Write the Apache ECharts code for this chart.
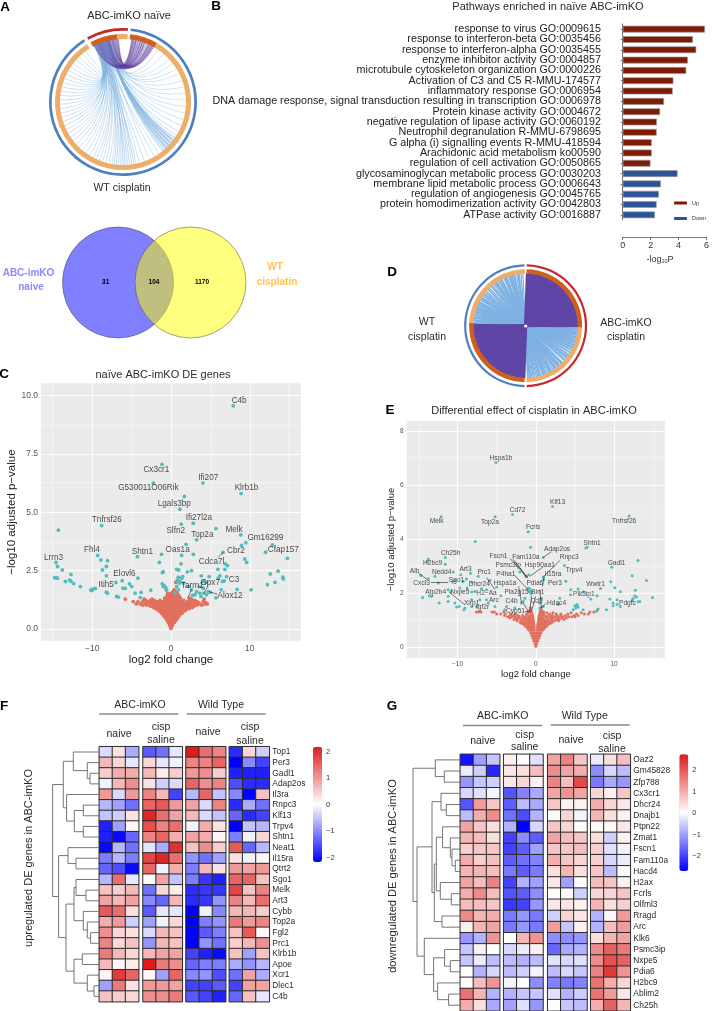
<!DOCTYPE html>
<html><head><meta charset="utf-8">
<style>html,body{margin:0;padding:0;background:#fff}#c{width:712px;height:1011px}</style>
<script src="https://cdn.jsdelivr.net/npm/echarts@6/dist/echarts.min.js"></script>
</head><body><div id="c"></div>
<script>
const FONT='Liberation Sans';
// ---------- Panel B
const pathwayLabels=['response to virus GO:0009615','response to interferon-beta GO:0035456','response to interferon-alpha GO:0035455','enzyme inhibitor activity GO:0004857','microtubule cytoskeleton organization GO:0000226','Activation of C3 and C5 R-MMU-174577','inflammatory response GO:0006954','DNA damage response, signal transduction resulting in transcription GO:0006978','Protein kinase activity GO:0004672','negative regulation of lipase activity GO:0060192','Neutrophil degranulation R-MMU-6798695','G alpha (i) signalling events R-MMU-418594','Arachidonic acid metabolism ko00590','regulation of cell activation GO:0050865','glycosaminoglycan metabolic process GO:0030203','membrane lipid metabolic process GO:0006643','regulation of angiogenesis GO:0045765','protein homodimerization activity GO:0042803','ATPase activity GO:0016887'];
const upValues=[5.89,5.03,5.27,4.67,4.55,3.63,3.58,2.96,2.68,2.45,2.43,2.08,2.08,1.99];
const downValues=[3.93,2.73,2.59,2.43,2.31];
// ---------- Panel A/D rings (degree spans, clockwise) and links
const ringA_outer=[33,2,322,3];
const ringA_inner=[23.5,9,2,24,298,3.5];
const linksA_blue=[[341,34,.7],[347,40,.6],[344,47,.6],[350,52,.6],[342,58,.7],[346,63,.6],[349,70,.6],[343,76,.7],[345,82,.6],[351,88,.6],[340,94,.7],[348,100,.6],[344,106,.7],[346,112,.7],[342,118,.8],[350,122,.8],
[345,125,1.2],[345.5,127,1.4],[346,128,1.4],[346.5,130,1.5],[347,131,1.5],[347.5,133,1.5],[346,134,1.5],[345,136,1.4],[346.5,137,1.4],[347,139,1.2],[346,141,1],
[338,145,.6],[342,150,.7],[345,155,.6],[339,160,.7],[343,165,.7],[337,168,.8],[341,170,.8],[345,172,.8],[339,174,.9],[342,176,.9],[336,178,1],[340,180,1],[344,182,.9],[338,184,.8],[341,186,.8],[335,188,.8],[339,190,.7],[343,193,.7],[337,196,.7],[340,199,.7],[336,202,.7],[342,205,.7],[338,208,.7],[334,212,.7],[340,216,.7],[336,220,.7],[338,224,.7],[334,228,.8],
[337,232,.8],[340,236,.7],[335,240,.8],[338,244,.7],[333,248,.8],[336,252,.8],[339,256,.7],[334,260,.7],[337,264,.7],[341,268,.7],[335,272,.8],[338,276,.7],[333,280,.7],[336,284,.7],[340,288,.7],[334,292,.7],[337,296,.7],[335,300,.7],[339,304,.7],[333,308,.6],[336,312,.7],[338,316,.6],[334,320,.6],[336,324,.6]];
const linksA_purple=[[333,29,.9],[334.5,28,.9],[336,27,.9],[337,26,.9],[338.5,25,.9],[339.5,24,.9],[341,23,.9],[342,22,.9],[343.5,21,.9],[344.5,20,.9],[346,19,.9],[347,18,.9],[348,17,.9],[349.5,16,.9],[350.5,15,.9],[351.5,14,.9],[352.5,13,.9],[353.5,12,.9],[354.5,11,.9],[355,10,.9],[355.5,9,.9],[356,8,.9],[336.5,16,.7],[341,11,.7],[345,26,.7],[349,9,.7],[333,20,.9],[335,14,.9],[337,9,.9],[339,28,.9],[342,12,.9],[344,27,.9],[347,24,.9],[350,29,.9],[352,20,.9],[354,27,.9],[334,24,.9],[338,10,.9],[340,18,.9],[343,16,.9],[346,8,.9],[348,12,.9],[351,25,.9],[353,18,.9]];
const ringD_outer=[178,2,178,2];
const ringD_inner=[91,87,2,92,86.5,1.5];
const linksD_purple=[[2,182,3.2],[5,185,3.2],[8,188,3.2],[11,191,3.2],[14,194,3.2],[17,197,3.2],[20,200,3.2],[23,203,3.2],[26,206,3.2],[29,209,3.2],[32,212,3.2],[35,215,3.2],[38,218,3.2],[41,221,3.2],[44,224,3.2],[47,227,3.2],[50,230,3.2],[53,233,3.2],[56,236,3.2],[59,239,3.2],[62,242,3.2],[65,245,3.2],[68,248,3.2],[71,251,3.2],[74,254,3.2],[77,257,3.2],[80,260,3.2],[83,263,3.2],[86,266,3.2],[89,269,3.2],[91,271,2]];
const linksD_blue=[[273,94,2.6],[276,97,2.6],[279,100,2.6],[282,103,2.6],[285,106,2.6],[288,109,2.6],[291,112,2.4],[294,115,2.4],[297,118,2.2],[300,121,2],[302.5,124,1.7],[305,127,1.5],[307,129,1.4],[309.5,132,1.3],[311.5,135,1.3],[314,137,1.3],[316,139,1.3],[318.5,142,1.3],[320,144,1.3],[322.5,146,1.3],[325,148,1.3],[327,151,1.3],[329,153,1.3],[331.5,155,1.3],[333,157,1.3],[335.5,159,1.2],[337.5,161,1.2],[339,163,1.2],[341,165,1.2],[343,166.5,1.2],[345,168,1.2],[346.5,170,1.2],[348,171.5,1.2],[350,173,1.2],[351.5,174.5,1.2],[353,176,1.2],[355,177,1.2],[357,178,1.2],
[290,126,1.2],[296,131,1.2],[302,136,1.2],[308,141,1.2],[314,146,1.2],[320,152,1.2],[326,158,1.2],[332,164,1.2],[338,170,1.2],[344,175,1.2],[352,165,1.2],[347,160,1.2],[342,155,1.2],[336,150,1.2],[330,145,1.2],[324,140,1.2]];
// ---------- Panel A Venn
const vennCounts=['31','104','1170'];
// ---------- Panel C volcano
const tealC=[[7.9,9.56],[-1.14,7.05],[-2.24,6.25],[4.05,6.25],[8.9,5.8],[1.7,5.68],[1.14,5.13],[2.83,4.53],[1.3,4.49],[-8.8,4.43],[5.7,4.3],[-14.3,4.24],[8.86,4.03],[3.25,3.82],[9.5,3.7],[8.95,3.58],[1.9,3.63],[12.87,3.6],[12,3.29],[6.6,3.28],[-1.2,3.2],[1.35,3.16],[2.83,3.2],[-4.26,3.1],[-9.3,3.15],[-8.9,2.96],[-8.06,2.93],[14.77,3.03],[9.37,3],[9.6,2.86],[-14.6,2.85],[-14.4,2.68],[-13.8,2.53],[-8.2,2.68],[-8.7,2.53],[-1.48,2.85],[1.27,2.79],[6.9,2.79],[7.17,2.72],[5.95,2.56],[6.84,2.56],[.72,2.56],[.97,2.53],[2.6,2.5],[2.07,2.45],[-.97,2.46],[-1.1,2.42],[13.6,2.48],[12.6,2.36],[-12.7,2.34],[-8.2,2.28],[-14.77,2.2],[-14.56,2.19],[-14.4,2.18],[14.2,2.22],[14.26,2.15],[3.84,2.28],[4.85,2.25],[6.2,2.28],[6,2.18],[7.05,2.25],[6.54,2.04],[6.75,2.06],[13.2,2],[-4.2,2.18],[-12.87,2.1],[-13.4,2.04],[-12.7,2.05],[-12.36,1.95],[-11.5,1.82],[-7,2],[-6.2,2.07],[-5.27,1.94],[-4.98,1.82],[-6.1,1.75],[-5.8,1.74],[-10.2,1.67],[-9.9,1.72],[-9.6,1.74],[-10.04,1.65],[-8.2,1.58],[-8.06,1.54],[-6.9,1.4],[-6.67,1.37],[-4.56,1.54],[-3.8,1.57],[-3.9,1.35],[-2.57,1.67],[-1.1,1.94],[-.97,1.82],[-.68,1.77],[-.55,1.68],[-.84,1.85],[.93,2.22],[1.35,2.18],[.8,2.1],[1.14,2.04],[1.48,2.25],[1.05,1.97],[1.56,1.97],[.72,1.82],[.93,1.68],[.5,1.54],[4.1,2.04],[4.5,2],[3.6,1.82],[4.1,1.75],[3.25,1.6],[3.67,1.54],[4.18,1.54],[3.04,1.47],[2.74,1.44],[4.73,1.6],[5,1.57],[4.5,1.47],[3.8,1.4],[5.7,1.34],[6.37,1.68],[8.4,1.7],[10.17,1.68],[12.24,1.9],[2.2,1.82],[2.6,1.68]];
const redRowsC=[[.03,[0]],[.1,[-.08,.07]],[.18,[-.18,-.05,.08,.2]],[.28,[-.33,-.18,-.03,.12,.27,.4]],[.38,[-.5,-.33,-.16,0,.16,.32,.5,.62]],[.48,[-.72,-.55,-.36,-.18,0,.18,.36,.55,.72,.85]],[.58,[-.95,-.75,-.55,-.35,-.15,.05,.25,.45,.65,.85,1.05]],[.68,[-1.2,-1,-.78,-.55,-.33,-.11,.11,.33,.55,.78,1,1.2,1.38]],[.78,[-1.5,-1.25,-1,-.75,-.5,-.25,0,.25,.5,.75,1,1.25,1.5,1.72]],[.83,[-1.7,-1.2,-.7,-.2,.3,.8,1.3,1.9]],[.88,[-1.95,-1.6,-1.3,-1,-.7,-.4,-.1,.2,.5,.8,1.1,1.4,1.7,2,2.3]],[.93,[-2.2,-1.7,-1.2,-.7,-.2,.3,.8,1.3,1.8,2.4,2.7]],[.98,[-2.6,-2.2,-1.8,-1.45,-1.1,-.75,-.4,-.05,.3,.65,1,1.35,1.7,2.1,2.5,2.9]],[1.03,[-3.6,-3.1,-2.6,-2.1,-1.7,-1.2,-.7,-.2,.3,.8,1.3,1.8,2.3,2.8,3.3,3.9]],[1.08,[-4.4,-3.9,-3.3,-2.9,-2.4,-1.9,-1.4,-.9,-.5,0,.5,.9,1.4,1.9,2.4,3.1,3.6,4.3,4.6]],[1.13,[-3,-2.5,-2,-1.5,-1.1,-.7,-.3,.2,.6,1,1.5,2,2.5,3,3.5,4.4]],[1.18,[-4.8,-4.2,-3.6,-2.9,-2.3,-1.8,-1,-.5,0,.4,.8,1.3,2.1,2.7,3.3,4.1]],[1.23,[-3.2,-2.6,-2.1,-1.4,-.8,-.3,.2,.7,1.1,1.6,2.3,3]],[1.28,[-5.8,-3.4,-2.4,-.6,-.2,.2,.6,1,2.6,4.2]],[1.33,[-.8,-.4,0,.4,.8,1.2,2.3]],[1.38,[-.3,.1,.5,.8]],[1.43,[-.5,-.1,.3,.7,1]],[1.48,[-.1,.3,.6]],[1.53,[-.4,0,.4,.8]],[1.58,[.2,.45,.65]],[1.68,[.4,-.6]],[2,[.6]]];
const labelsC=[[8.65,9.77,'C4b'],[-1.86,6.8,'Cx3cr1'],[4.73,6.48,'Ifi207'],[-2.87,6.03,'G530011O06Rik'],[9.58,6.03,'Klrb1b'],[.42,5.36,'Lgals3bp'],[3.54,4.77,'Ifi27l2a'],[-8.14,4.66,'Tnfrsf26'],[.6,4.23,'Slfn2'],[8,4.26,'Melk'],[3.97,4.03,'Top2a'],[11.98,3.92,'Gm16299'],[.84,3.39,'Oas1a'],[-3.63,3.33,'Shtn1'],[-10.04,3.39,'Fhl4'],[8.23,3.35,'Cbr2'],[14.26,3.38,'Cfap157'],[-14.9,3.06,'Lrrn3'],[5.15,2.9,'Cdca7l'],[-5.9,2.35,'Elovl6'],[-8.23,1.91,'Itih5'],[8,2.12,'C3'],[4.98,1.99,'Gpx7'],[2.7,1.85,'Tarm1'],[7.5,1.44,'Alox12']];
const connC=[[6,3.07,6.6,3.28],[2.6,1.71,2.2,1.37],[4.73,1.85,4.18,1.54],[5.9,1.49,4.85,1.6]];
// ---------- Panel E volcano
const tealE=[[-5.1,6.84],[2.13,5.21],[-2.98,4.91],[-12.1,4.83],[-5.2,4.83],[11.9,4.86],[-.98,4.27],[-7.74,3.91],[-.68,3.7],[6.38,3.67],[6.55,3.7],[.94,3.32],[-13.74,3.26],[-13.87,3.17],[-11.57,3.32],[-11.57,3.07],[13.06,3.21],[3.66,3.02],[9.7,2.96],[-10.55,2.78],[-9.6,2.68],[-8.34,2.73],[-14.7,2.65],[-12.9,2.62],[-13.74,2.53],[12.3,2.64],[-2.04,2.78],[-1.2,2.62],[-.9,2.68],[.94,2.59],[1.02,2.5],[-12.47,2.37],[-10.64,2.41],[-10.34,2.46],[-9.28,2.43],[-8.85,2.52],[-8.2,2.4],[-5.87,2.47],[-7.36,2.62],[3.83,2.44],[9.57,2.42],[14.13,2.46],[-9.7,2.19],[-8.77,2.19],[-6.94,2.16],[-8.2,2.04],[-7.79,2.06],[-6.3,2.12],[-5.02,2.22],[10.09,2.2],[8.26,2.17],[5.4,2.15],[4.47,2.12],[-11.2,2.12],[-10.9,2.04],[12.72,2.1],[10.8,2.05],[-.98,2.19],[-.77,2.15],[-.55,2.06],[-.85,2.06],[-.64,1.98],[-4.47,1.9],[4.43,1.94],[6.04,2.04],[-14.47,1.83],[-13.6,1.9],[-13.3,1.88],[-11.2,1.88],[12.64,1.9],[12.85,1.85],[12.43,1.8],[12.3,1.73],[14.9,1.83],[13.28,1.69],[13.06,1.68],[7.83,1.9],[7.02,1.78],[9.45,1.78],[10.38,1.75],[9.87,1.63],[10.38,1.57],[10.8,1.5],[9.87,1.53],[-12.34,1.63],[-11.2,1.69],[-10.34,1.63],[-10.13,1.48],[-9.79,1.5],[-9.06,1.44],[-9.2,1.38],[-8.2,1.75],[-7.15,1.75],[-8.2,1.5],[-7.57,1.5],[-6.09,1.63],[-5.23,1.5],[-6.3,1.75],[-3.74,1.5],[-3.96,1.38],[-2.68,1.44],[-1.83,1.63],[-1.62,1.69],[-1.4,1.81],[3.06,1.81],[.72,1.81],[.51,1.63],[.94,1.5],[2.85,1.57],[.51,1.44],[4.98,1.53],[5.19,1.53],[5.4,1.48],[5.1,1.44],[5.28,1.57],[4.77,1.38],[6.04,1.38],[7.74,1.32],[7.96,1.41],[9.02,1.38]];
const redRowsE=[[.03,[0]],[.12,[-.12,.1]],[.22,[-.25,-.1,.1,.25]],[.32,[-.38,-.2,-.08,.08,.2,.38]],[.42,[-.5,-.3,-.12,.12,.3,.5]],[.52,[-.65,-.45,-.25,-.12,.14,.3,.48,.66]],[.62,[-.85,-.6,-.4,-.18,.18,.4,.6,.85]],[.67,[-1,-.7,-.5,-.3,.3,.5,.75,1]],[.72,[-1.1,-.85,-.6,-.4,-.2,.2,.4,.65,.9,1.15]],[.77,[-1.3,-1,-.75,-.5,-.3,.3,.5,.8,1.05,1.35]],[.82,[-1.5,-1.2,-.9,-.65,-.4,-.22,.22,.42,.7,.95,1.25,1.55]],[.87,[-1.8,-1.4,-1,-.75,-.5,-.3,.3,.55,.8,1.1,1.45,1.85]],[.92,[-2,-1.6,-1.2,-.9,-.6,-.3,.3,.6,.9,1.25,1.7,2.1]],[.97,[-2.4,-1.9,-1.5,-1.1,-.8,-.5,-.35,.4,.6,.85,1.2,1.6,2,2.4,2.9]],[1.02,[-2.8,-2.4,-1.9,-1.4,-1,-.7,-.35,.35,.7,1,1.5,2,2.6,3,3.6]],[1.07,[-3.3,-2.6,-2.2,-1.7,-1.2,-.9,-.55,-.38,.42,.6,.95,1.4,1.8,2.2,2.8,3.3,3.9]],[1.12,[-3.6,-3,-2.5,-2.1,-1.4,-.8,-.4,.4,.8,1.3,1.9,2.4,2.9,3.5,4.2,4.6,5]],[1.17,[-4,-3.3,-2.8,-2.3,-1.7,-1,-.6,-.45,.48,.7,1.1,1.6,2.1,2.7,3.2,3.8,4.9,5.4]],[1.22,[-5,-4.5,-3.9,-3.2,-2.6,-1.2,-.5,.5,1,1.8,2.6,3.2,4.1,5.2,6.2,6.7]],[1.27,[-.8,-.55,.55,.8,1.4,2.2,4.5,5.8]],[1.3,[-7.6,-7.3,-7,-5.6,-5.3,-4.1,-1,-.6,.6,1,6.9,7.4]],[1.34,[-.8,-.65,.6,.75]],[1.38,[-.7,.65,7.9]],[1.45,[-.7,.68]]];
const labelsE=[[-4.47,6.99,'Hspa1b'],[2.77,5.38,'Klf13'],[-2.34,5.07,'Cd72'],[-12.68,4.65,'Melk'],[-5.87,4.64,'Top2a'],[11.28,4.68,'Tnfrsf26'],[-.34,4.46,'Fcrls'],[7.19,3.84,'Shtn1'],[2.72,3.63,'Adap2os'],[-10.89,3.47,'Ch25h'],[-4.77,3.36,'Fscn1'],[-1.28,3.33,'Fam110a'],[4.26,3.32,'Rnpc3'],[10.3,3.12,'Gadl1'],[-13.19,3.1,'H2bc9'],[-3.53,3.02,'Psmc3ip'],[.51,3.02,'Hsp90aa1'],[-8.98,2.9,'Art3'],[4.89,2.86,'Trpv4'],[-12.04,2.78,'Nedd4'],[-15.5,2.8,'Alb'],[-6.6,2.77,'Prc1'],[-3.83,2.69,'P4ha1'],[2.2,2.69,'Il15ra'],[-14.6,2.37,'Cxcl3'],[-10.13,2.49,'Sgo1'],[-7.23,2.32,'Dhcr24'],[-3.96,2.37,'Hspa1a'],[-.13,2.37,'Pdia6'],[2.43,2.36,'Per3'],[7.62,2.33,'Wwtr1'],[-12.8,2.05,'Atp2b4'],[-9.7,2.02,'Nxpe5'],[-6.3,2,'H2\u2212Aa'],[-2.47,2.04,'Pla2g15'],[.26,2.02,'Bin1'],[6.13,1.96,'Pik3ip1'],[-8.2,1.63,'Xirp1'],[-5.36,1.74,'Arc'],[-3.1,1.68,'C4b'],[.09,1.7,'Cd9'],[2.64,1.63,'Hdac4'],[11.7,1.62,'Pdgfc'],[-6.8,1.46,'Igf2r'],[-2.6,1.32,'Cyp51']];
const connE=[[-15,2.75,-13.9,2.5],[-13.4,2.4,-11.2,2.41],[-11,2.02,-9.1,1.57],[-3.3,3.28,-1.2,2.62],[-2.9,3.25,-1,2.55],[-2.04,2.93,-1.2,2.55],[-2.68,2.65,-1,2.12],[.94,3.32,1.98,3.53],[3.06,3.2,1.02,2.62],[.94,2.97,-.77,2.62],[1.06,2.62,.85,2.24],[-6.3,2.57,-5.23,2.13],[-2.2,2.25,-1.83,1.63],[-.55,1.9,-.77,1.33],[-1.62,1.63,-.98,1.33],[-1.4,1.33,-.68,1.33],[0,1.88,-.55,1.33],[1.36,1.63,.64,1.44],[.5,2.12,.72,1.44]];
// ---------- Panels F / G heatmaps
const groupCols=['1','2','3'];
const geneF=['Top1','Per3','Gadl1','Adap2os','Il3ra','Rnpc3','Klf13','Trpv4','Shtn1','Neat1','Il15ra','Qtrt2','Sgo1','Melk','Art3','Cybb','Top2a','Fgl2','Prc1','Klrb1b','Apoe','Xcr1','Dlec1','C4b'];
const valuesF=[[-.3,.3,-.7,-1.4,-1.2,-.2,2.2,1.4,1.2,-1.8,.4,-.4],[.7,.4,-.2,.4,-.2,-.1,1.2,1.2,1.5,-2.3,-1,-1.6],[.5,.8,.8,.7,.2,.5,1,1.1,.5,-1.9,-1.9,-1.9],[-.1,.7,1.1,.3,-.4,-.3,1.5,1.1,1.2,-1.5,-1.8,-1.8],[1,-.3,1,1.2,.7,-1.6,-.6,1.5,-.5,-1,-2.2,.6],[-.6,-.8,-1.2,1.5,1.6,1,.9,-.3,1.2,-1.8,-.7,-1.2],[-.5,-.4,.3,2.1,1.4,.9,.7,-.3,-.5,-1.3,-1.8,-1.6],[-1.9,-.8,.1,1.7,1.2,1.4,-.1,.8,.3,-2.2,-.5,-.6],[-1.9,-2.1,-1.3,1.2,1.5,.8,.9,.8,.1,-1.1,-.1,.4],[-2.1,-.6,-1.2,-.2,-.7,2,.6,1.1,.5,1.6,-1.3,-.6],[-1.1,-.6,-1.1,1.8,2.1,1.4,-.9,-1.2,-.8,.3,-.1,.1],[-1.3,-1.5,-2.1,1.5,-.1,.8,-1.1,.7,.3,1,.9,1],[-.6,1.4,-.2,0,.9,-.5,-1.1,-1.7,-1.9,1.5,1.5,.6],[.6,.5,.7,-1.2,.4,.2,-1.8,-1.7,-1.7,1.8,.6,1.2],[.9,.7,.9,-1,-1.3,.7,-1.8,-1.7,-.9,1.2,.7,1.4],[1.6,1.4,.3,-1.4,-.2,-.2,-2.3,-.1,-1,.7,.7,.5],[.8,1,-.4,-.8,-.1,.4,-2.3,-1.1,-.9,1.3,1,1.2],[1.1,.4,.3,-.3,.7,.6,-2.3,-1.4,-1.1,.6,1.6,.1],[1.2,.4,.6,-.9,.7,.6,-2.3,-.9,-1.2,.5,.7,1.1],[1.3,.7,.4,.7,.9,.9,-1.6,-1.9,-2.1,.6,-.8,.6],[.7,.1,.2,2.3,1.3,1.1,-1.3,-1.1,-1.1,-.7,-.9,-.6],[.1,1.9,1.5,.1,-.8,1.5,-1,-.9,-1.5,-1.2,.9,-.7],[-.8,1.3,.3,1,1,.9,-1.6,-1.6,-1.4,-1.6,.9,.9],[.6,.5,.4,1.1,1.1,1.3,-1.4,-1.6,-1.9,-1.3,.6,-.2]];
const geneG=['Oaz2','Gm45828','Zfp788','Cx3cr1','Dhcr24','Dnajb1','Ptpn22','Zmat1','Fscn1','Fam110a','Hacd4','H2ax','Fcrls','Olfml3','Rragd','Arc','Klk6','Psmc3ip','Nxpe5','Pdia6','H2bc9','Ablim2','Ch25h'];
const valuesG=[[-2.5,-1,-.6,.2,0,-.3,1.1,1.5,.7,-.2,.4,.8],[-.2,-.5,-2.3,.3,.4,.8,1.4,1.1,1,-1.2,-.4,-.7],[-1.1,-.6,-.5,.3,.5,.2,1.5,.8,2.2,-1.4,-.9,-1.1],[-.4,-.3,-.1,-1.8,-1.3,-.9,1.1,1.3,1.1,.5,.2,.7],[-1.8,1.2,.7,-1.7,-.7,-.9,.7,.2,.2,1,.5,.3],[-.7,1,1.4,-1.5,-1.9,-.8,.1,.5,-.1,.9,.4,.2],[1.1,.7,.4,-.8,-2.8,-.4,.7,.5,0,.1,.1,.3],[.9,.8,.4,-2,-1.2,-1.7,1.1,.8,.7,.4,-.5,.2],[.6,.7,.7,-2,-1.7,-1,.7,.7,.8,.6,-.3,-.1],[1,.6,.8,-1.7,-1.5,-1.3,1,.7,.5,.6,-.4,-.2],[.9,.9,.8,-1.4,-1.7,-1.4,.4,.9,.4,.7,-.7,.1],[1.1,.8,1.5,-2,-.8,-1,.3,-1,0,.8,.7,.2],[1,1.4,.8,-1.8,-1.7,-1.2,0,.1,-.5,.5,.5,.7],[.8,.8,.7,-2.1,-2,-1.1,.3,.3,.2,.9,.4,.6],[1.4,.9,1,-1.4,-1.1,-1.4,-.5,.5,.3,-.8,.1,1.2],[.2,.9,1.1,-1.4,-1.1,-1.4,1.2,-.6,.2,-.8,.8,1.2],[-1.1,-.8,1.3,0,.9,1.3,-1.2,-1.2,-1.1,.4,.9,1.1],[-.6,.2,0,-.4,-.2,.2,-1.6,-.9,-.8,1.4,1.9,1.6],[-.6,-.2,-.7,-.7,-.8,-.7,-.3,-.4,-.3,1.4,2.1,1.9],[0,-.8,-.4,-.7,-.5,-.1,-.7,-.4,-.6,1.5,2.4,1.3],[0,.8,1.3,-.1,0,-1.2,-1.3,-1.4,-1.3,1.7,1,.5],[1.7,.9,-.8,-.8,-.6,-.6,-.3,-.8,-.5,1.7,1.2,.3],[1,.4,-.9,-1,-.3,-1.1,0,-.6,-.7,1,1.9,.9]];
// dendrogram merges: [height, rowA, rowB, heightA, heightB]
const dendroF=[[9.3,2,3,0,0],[12,1,2.5,0,9.3],[26,0,1.75,0,12],[16,5,6,0,0],[16,7,8,0,0],[25,5.5,7.5,16,16],[32.7,4,6.5,0,25],[36,.875,5.25,26,32.7],[23.3,10,11,0,0],[31.3,9,10.5,0,23.3],[13.3,13,14,0,0],[23.3,12,13.5,0,13.3],[8.7,17,18,0,0],[12,16,17.5,0,8.7],[16,15,16.75,0,12],[25.3,12.75,15.875,23.3,16],[17,19,20,0,0],[5.3,22,23,0,0],[12,21,22.5,0,5.3],[25.3,19.5,21.75,17,12],[33.3,14.31,20.625,25.3,25.3],[40.7,9.75,17.47,31.3,33.3],[46.7,3.06,13.6,36,40.7]];
const dendroG=[[16,1,2,0,0],[25,0,1.5,0,16],[14,4,5,0,0],[19.3,3,4.5,0,14],[5,9,10,0,0],[8.3,8,9.5,0,5],[10,7,8.75,0,8.3],[17.7,6,7.875,0,10],[9,12,13,0,0],[20,11,12.5,0,9],[24,6.94,11.75,17.7,20],[18.3,14,15,0,0],[26,9.34,14.5,24,18.3],[28.3,3.75,11.9,19.3,26],[10,18,19,0,0],[15.7,17,18.5,0,10],[11.7,21,22,0,0],[22.7,20,21.5,0,11.7],[26.7,17.75,20.75,15.7,22.7],[36,16,19.25,0,26.7],[43.3,7.8,17.6,28.3,36],[47.3,.75,12.7,25,43.3]];

// ---------- builders
const grid=[],xAxis=[],yAxis=[],series=[],graphic=[],polar=[],angleAxis=[],radiusAxis=[],visualMap=[];
const hidden={show:false};
function addGrid(g,x,y){grid.push(Object.assign({containLabel:false},g));const i=grid.length-1;xAxis.push(Object.assign({gridIndex:i},x));yAxis.push(Object.assign({gridIndex:i},y));return i;}
function T(x,y,text,size,o){graphic.push(Object.assign({type:'text',x:x,y:y,z:100,silent:true,style:Object.assign({text:text,fontSize:size,fontFamily:FONT,fill:'#2a2a2a',textAlign:'center',textVerticalAlign:'middle'},o&&o.style||{})},o&&o.rotation?{rotation:o.rotation}:{}));}
function B(x,y,text,size,fill){T(x,y,text,size,{style:{fontWeight:'bold',fill:fill||'#000'}});}
const pieBase={type:'pie',silent:true,label:{show:false},labelLine:{show:false},animation:false,emphasis:{disabled:true},clockwise:true};
function ring(center,r0,r1,startClock,spans,colors,z){series.push(Object.assign({},pieBase,{center:center,radius:[r0,r1],startAngle:90-startClock,z:z||5,data:spans.map((v,i)=>({value:v,itemStyle:{color:colors[i]}}))}));}
function addPolar(center,r){polar.push({center:center,radius:r});angleAxis.push({polarIndex:polar.length-1,show:false,min:0,max:360,startAngle:90,clockwise:true});radiusAxis.push({polarIndex:polar.length-1,show:false,min:0,max:1});return polar.length-1;}
function chord(pi,links,color,op,p1,p2,z){series.push({type:'custom',coordinateSystem:'polar',polarIndex:pi,silent:true,z:z||2,data:links,renderItem:function(params,api){const f=api.value(0),t=api.value(1),w=api.value(2);const a=api.coord([1,f]),b=api.coord([1,t]),c1=api.coord([p1,f]),c2=api.coord([p2,t]);return {type:'bezierCurve',shape:{x1:a[0],y1:a[1],x2:b[0],y2:b[1],cpx1:c1[0],cpy1:c1[1],cpx2:c2[0],cpy2:c2[1]},style:{stroke:color,fill:null,lineWidth:w,opacity:op}};}});}
const O1='#EFAD6A',O2='#CF5F1C',RD='#C9252B',BL='#4C80BE';
// Panel A chord
const pA=addPolar([123,102],63.5);
chord(pA,linksA_blue,'#7FB3DE',.55,.42,.3,2);
chord(pA,linksA_purple,'#5A3A9E',.42,.45,.45,3);
ring([123,102],71.3,74,331,ringA_outer,[RD,'transparent',BL,'transparent']);
ring([123,102],63,68,331.5,ringA_inner,[O2,O1,'transparent',O2,O1,'transparent']);
T(129,16,'ABC-imKO na\u00efve',11);T(122,188,'WT cisplatin',10.5);
// Venn
const vg=addGrid({left:60,top:225,width:190,height:115},{type:'value',min:0,max:190,show:false},{type:'value',min:0,max:115,show:false});
series.push({type:'scatter',xAxisIndex:vg,yAxisIndex:vg,silent:true,symbolSize:111,z:2,data:[[58,57.5]],itemStyle:{color:'rgba(0,0,255,.5)',borderColor:'#444',borderWidth:.5,opacity:1}});
series.push({type:'scatter',xAxisIndex:vg,yAxisIndex:vg,silent:true,symbolSize:111,z:3,data:[[130.5,57.5]],itemStyle:{color:'rgba(255,255,0,.5)',borderColor:'#444',borderWidth:.5,opacity:1}});
[[105.7,vennCounts[0]],[154,vennCounts[1]],[202,vennCounts[2]]].forEach(a=>B(a[0],282,a[1],6.5));
B(28.5,273,'ABC-imKO',10,'#8A8AFF');B(31,287,'naive',10,'#8A8AFF');
B(275,267,'WT',10,'#FFC64F');B(277,282,'cisplatin',10,'#FFC64F');
// Panel B
const bg=addGrid({left:622.7,top:24,width:86.6,height:196},
 {type:'value',min:0,max:6,interval:2,offset:17,position:'bottom',splitLine:hidden,axisLine:{show:true,lineStyle:{color:'#555',width:.8}},axisTick:{show:true,length:3,lineStyle:{color:'#555',width:.8}},axisLabel:{fontSize:9,fontFamily:FONT,color:'#333',margin:4}},
 {type:'category',inverse:true,data:pathwayLabels,offset:16.7,axisLine:{show:true,lineStyle:{color:'#555',width:.8}},axisTick:{show:true,length:2,lineStyle:{color:'#555',width:.8},alignWithLabel:true},axisLabel:{interval:0,fontSize:10.75,fontFamily:FONT,color:'#222',margin:5}});
series.push({name:'Up',type:'bar',xAxisIndex:bg,yAxisIndex:bg,silent:true,barWidth:6.8,barGap:'-100%',data:upValues,itemStyle:{color:'#7F1A05',borderColor:'#9a9a9a',borderWidth:.7}});
series.push({name:'Down',type:'bar',xAxisIndex:bg,yAxisIndex:bg,silent:true,barWidth:6.8,barGap:'-100%',data:Array(upValues.length).fill(null).concat(downValues),itemStyle:{color:'#2B5597',borderColor:'#9a9a9a',borderWidth:.7}});
T(548,7,'Pathways enriched in na\u00efve ABC-imKO',11);
graphic.push({type:'text',x:661.5,y:260,silent:true,style:{text:'-log',fontSize:9,fontFamily:FONT,fill:'#333',textAlign:'right',textVerticalAlign:'middle'}});
graphic.push({type:'text',x:661.5,y:261.5,silent:true,style:{text:'10',fontSize:5.5,fontFamily:FONT,fill:'#333',textAlign:'left',textVerticalAlign:'middle'}});
graphic.push({type:'text',x:667.6,y:260,silent:true,style:{text:'P',fontSize:9,fontFamily:FONT,fill:'#333',textAlign:'left',textVerticalAlign:'middle'}});
// Panel D chord
const pD=addPolar([525.6,325.7],52.5);
chord(pD,linksD_blue,'#7FB2E3',1,.15,.15,2);
chord(pD,linksD_purple,'#5E45A6',1,.1,.1,3);
ring([525.6,325.7],59.3,61.5,1,ringD_outer,[RD,'transparent',BL,'transparent']);
ring([525.6,325.7],52,56.5,1,ringD_inner,[O2,O1,'transparent',O2,O1,'transparent']);
graphic.push({type:'circle',shape:{cx:525.7,cy:326,r:1.6},style:{fill:'#fff'},silent:true,z:100});
T(427,322,'WT',10.5);T(427,337,'cisplatin',10.5);T(626,323,'ABC-imKO',10.5);T(626,337,'cisplatin',10.5);
// Volcano helper
function volcano(g,x,y,opt){
 const tickCol='#333';
 const idx=addGrid({left:g[0],top:g[1],width:g[2],height:g[3],show:true,backgroundColor:'#EBEBEB',borderWidth:0},
 {type:'value',min:x.min,max:x.max,splitLine:hidden,axisLine:hidden,name:'log2 fold change',nameLocation:'middle',nameGap:opt.xGap,nameTextStyle:{fontSize:opt.titleSize,fontFamily:FONT,color:'#222'},axisTick:{show:true,length:2,customValues:x.major,lineStyle:{color:tickCol,width:.6}},axisLabel:{customValues:x.major,fontSize:opt.tickSize,fontFamily:FONT,color:'#555',margin:opt.xMargin,formatter:v=>String(v).replace('-','\u2212')}},
 {type:'value',min:y.min,max:y.max,splitLine:hidden,axisLine:hidden,name:'\u2212log10 adjusted p\u2212value',nameLocation:'middle',nameGap:opt.yGap,nameTextStyle:{fontSize:opt.titleSize,fontFamily:FONT,color:'#222'},axisTick:{show:true,length:2,customValues:y.major,lineStyle:{color:tickCol,width:.6}},axisLabel:{customValues:y.major,fontSize:opt.tickSize,fontFamily:FONT,color:'#555',margin:3,formatter:v=>y.fmt?v.toFixed(y.fmt):String(v)}});
 const wl=(v,w,k)=>({[k]:v,lineStyle:{color:'#fff',width:w,type:'solid'}});
 series.push({type:'scatter',xAxisIndex:idx,yAxisIndex:idx,silent:true,data:[],z:1,markLine:{silent:true,symbol:'none',label:{show:false},animation:false,z:1,data:[...x.minor.map(v=>wl(v,.4,'xAxis')),...y.minor.map(v=>wl(v,.4,'yAxis')),...x.major.map(v=>wl(v,.9,'xAxis')),...y.major.map(v=>wl(v,.9,'yAxis'))]}});
 const red=[];opt.redRows.forEach(r=>r[1].forEach(px=>red.push([px,r[0]])));
 series.push({type:'scatter',xAxisIndex:idx,yAxisIndex:idx,silent:true,symbolSize:opt.dot,z:3,data:red,itemStyle:{color:'#E2705F',opacity:1}});
 series.push({type:'scatter',xAxisIndex:idx,yAxisIndex:idx,silent:true,symbolSize:opt.dot,z:3,data:opt.teal,itemStyle:{color:'#52BDBD',opacity:1}});
 series.push({type:'scatter',xAxisIndex:idx,yAxisIndex:idx,silent:true,data:[],z:4,markLine:{silent:true,symbol:'none',label:{show:false},animation:false,lineStyle:{color:'#222',width:.6,type:'solid'},data:opt.conn.map(c=>[{coord:[c[0],c[1]]},{coord:[c[2],c[3]]}])}});
 series.push({type:'scatter',xAxisIndex:idx,yAxisIndex:idx,silent:true,symbolSize:0,z:5,data:opt.labels,itemStyle:{color:'transparent'},label:{show:true,position:'inside',formatter:p=>p.data[2],fontSize:opt.labelSize,fontFamily:FONT,color:'#222'},labelLayout:{hideOverlap:false}});
}
volcano([41,383.3,260,257.5],{min:-16.5,max:16.5,major:[-10,0,10],minor:[-15,-5,5,15]},{min:-.5,max:10.52,major:[0,2.5,5,7.5,10],minor:[1.25,3.75,6.25,8.75],fmt:1},{xGap:13.5,yGap:21,xMargin:3,titleSize:11.5,tickSize:8.5,dot:3.8,labelSize:8.2,redRows:redRowsC,teal:tealC,labels:labelsC,conn:connC});
T(163,375,'na\u00efve ABC-imKO DE genes',11);
volcano([406.7,421,258.3,237],{min:-16.5,max:16.5,major:[-10,0,10],minor:[-15,-5,5,15]},{min:-.41,max:8.38,major:[0,2,4,6,8],minor:[1,3,5,7],fmt:0},{xGap:10.5,yGap:8.5,xMargin:3,titleSize:9.5,tickSize:6.5,dot:3,labelSize:6.6,redRows:redRowsE,teal:tealE,labels:labelsE,conn:connE});
T(534,411,'Differential effect of cisplatin in ABC-imKO',11);
// Heatmap helper
function heat(cfg){
 const n=cfg.genes.length,ids=[];
 cfg.cols.forEach((c,bi)=>{
  const last=bi===cfg.cols.length-1;
  const i=addGrid({left:c[0],top:cfg.top,width:c[1]-c[0],height:cfg.h},
   {type:'category',data:groupCols,show:false},
   {type:'category',data:cfg.genes,inverse:true,position:'right',axisLine:hidden,axisTick:hidden,axisLabel:{show:last,interval:0,fontSize:8.4,fontFamily:FONT,color:'#2a2a2a',margin:3,align:'left'}});
  const d=[];cfg.values.forEach((row,r)=>{for(let k=0;k<3;k++)d.push([k,r,row[bi*3+k]]);});
  ids.push(series.length);
  series.push({type:'heatmap',xAxisIndex:i,yAxisIndex:i,silent:true,data:d,itemStyle:{borderColor:'#2b2b2b',borderWidth:1},emphasis:{disabled:true}});
 });
 visualMap.push({type:'continuous',seriesIndex:ids,dimension:2,min:cfg.barMin,max:cfg.barMax,show:true,calculable:false,realtime:false,hoverLink:false,left:cfg.bar[0],top:cfg.bar[1],itemWidth:cfg.bar[2],itemHeight:cfg.bar[3],padding:0,text:null,showLabel:false,textStyle:{fontSize:1,color:'transparent'},inRange:{color:['#0000ff','#ffffff','#dd1c1c']}});
 // colour-bar tick labels
 addGrid({left:cfg.bar[0]+cfg.bar[2],top:cfg.bar[1],width:1,height:cfg.bar[3]},{type:'value',show:false,min:0,max:1},
  {type:'value',min:cfg.barMin,max:cfg.barMax,position:'right',splitLine:hidden,axisLine:hidden,axisTick:hidden,axisLabel:{customValues:cfg.ticks,fontSize:7.5,fontFamily:FONT,color:'#333',margin:3,formatter:v=>String(v).replace('-','\u2212')}});
 // dendrogram
 const dg=addGrid({left:cfg.cols[0][0]-cfg.dw,top:cfg.top,width:cfg.dw,height:cfg.h},{type:'value',show:false,inverse:true,min:0,max:cfg.dw},{type:'value',show:false,inverse:true,min:-.5,max:n-.5});
 series.push({type:'custom',xAxisIndex:dg,yAxisIndex:dg,silent:true,data:cfg.dendro,renderItem:function(p,api){const h=api.value(0),a=api.value(1),b=api.value(2),ha=api.value(3),hb=api.value(4);return {type:'polyline',shape:{points:[api.coord([ha,a]),api.coord([h,a]),api.coord([h,b]),api.coord([hb,b])]},style:{stroke:'#666',fill:null,lineWidth:.9}};}});
}
heat({genes:geneF,values:valuesF,dendro:dendroF,cols:[[99.3,138.7],[143,182.3],[186,225.7],[229.3,269.3]],top:746.7,h:255,dw:48,bar:[313,746.7,9,115.3],barMin:-2.17,barMax:2.2,ticks:[-2,-1,0,1,2]});
heat({genes:geneG,values:valuesG,dendro:dendroG,cols:[[460.3,499.7],[503.7,543],[547.7,587],[590.7,630.3]],top:754.3,h:256.5,dw:49,bar:[679.3,754.3,9,116.7],barMin:-2.7,barMax:2.73,ticks:[-2,-1,0,1,2]});
function hline(x1,x2,y){graphic.push({type:'line',silent:true,shape:{x1:x1,y1:y,x2:x2,y2:y},style:{stroke:'#8a8a8a',lineWidth:1.4}});}
T(140,705,'ABC-imKO',10.5);T(221,705,'Wild Type',10.5);hline(99.3,178.3,714);hline(186.7,265.7,714);
T(119,734,'naive',10.5);T(161,727,'cisp',10.5);T(161,740,'saline',10.5);T(208,732,'naive',10.5);T(250,727,'cisp',10.5);T(250,741,'saline',10.5);
T(29,858,'upregulated DE genes in ABC-imKO',11,{rotation:Math.PI/2});
T(502.7,716,'ABC-imKO',10.5);T(584.7,716,'Wild Type',10.5);hline(463,542,725.5);hline(550.7,629.7,725);
T(482.7,741,'naive',10.5);T(524.7,735,'cisp',10.5);T(524.7,747,'saline',10.5);T(571,740,'naive',10.5);T(612,736,'cisp',10.5);T(612,749,'saline',10.5);
T(393,876,'downregulated DE genes in ABC-imKO',11.1,{rotation:Math.PI/2});
// panel letters
[['A',5,7],['B',216,6],['C',4,374],['D',392,272],['E',390,410],['F',4,706],['G',392,706]].forEach(a=>B(a[1],a[2],a[0],13.5));
const chart=echarts.init(document.getElementById('c'),null,{renderer:'canvas',width:712,height:1011});
chart.setOption({animation:false,backgroundColor:'#fff',textStyle:{fontFamily:FONT},
 legend:{left:674,top:200,orient:'vertical',itemWidth:13,itemHeight:3,itemGap:9.5,padding:0,selectedMode:false,itemStyle:{borderWidth:0},data:['Up','Down'],textStyle:{fontSize:5.5,fontFamily:FONT,color:'#333'}},
 grid,xAxis,yAxis,polar,angleAxis,radiusAxis,visualMap,series,graphic:{elements:graphic}});
</script></body></html>
